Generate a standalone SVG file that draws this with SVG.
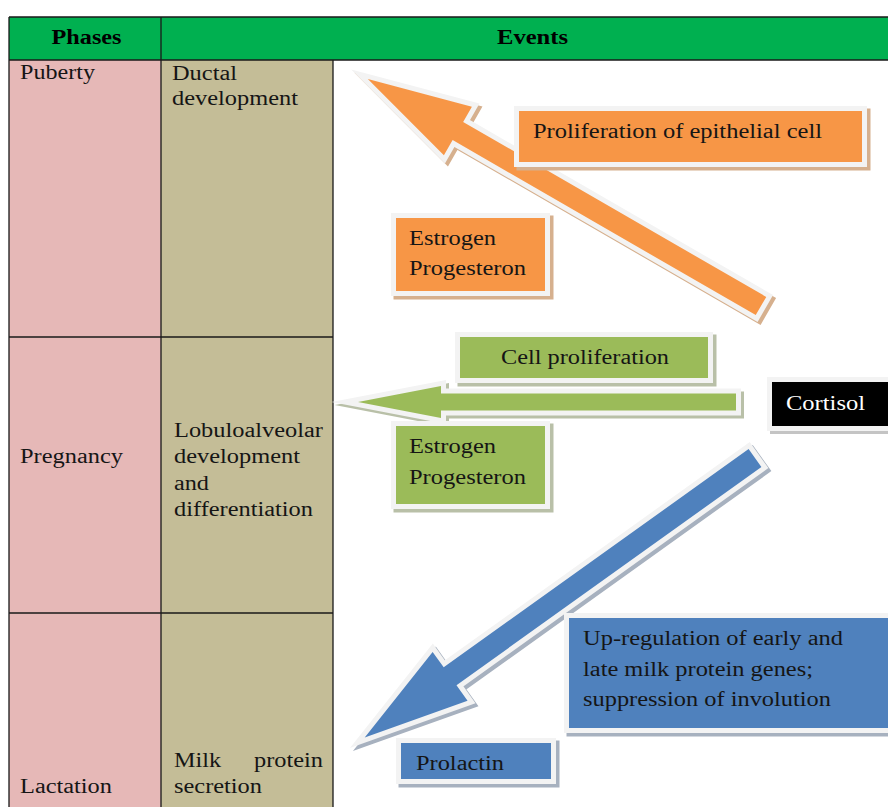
<svg xmlns="http://www.w3.org/2000/svg" xmlns:xlink="http://www.w3.org/1999/xlink" width="888" height="807" viewBox="0 0 888 807">
<style>
.t{font-family:"Liberation Serif","Times New Roman",serif;font-size:20px;fill:#151515}
.hd{font-weight:bold;fill:#000}
.w{fill:#fff}
.grid{stroke:#1a1a1a;stroke-width:1.3;fill:none}
.bd{fill:#f3f3f3}
.ab{stroke:#f3f3f3;stroke-width:10;stroke-linejoin:miter;stroke-miterlimit:12}
.shO{fill:#d6b08e;stroke:#d6b08e}
.shG{fill:#b9c0a8;stroke:#b9c0a8}
.shB{fill:#a7b1bf;stroke:#a7b1bf}
.shK{fill:#c4c4c4}
.sw{stroke-width:10;stroke-linejoin:miter;stroke-miterlimit:12}
.or{fill:#f79646}
.gr{fill:#9bbb59}
.bl{fill:#4f81bd}
</style>
<defs>
<polygon id="arrO" points="0,-10.5 350,-10.5 350,-28 454,0 350,28 350,10.5 0,10.5"/>
<polygon id="arrG" points="736,393.5 441,393.5 441,386 358,402 441,418 441,410.5 736,410.5"/>
<polygon id="arrB" points="0,-11 375,-11 375,-30 480,0 375,30 375,11 0,11"/>
</defs>
<rect width="888" height="807" fill="#fff"/>
<g id="table">
<rect x="9" y="17" width="879" height="43" fill="#00b050"/>
<rect x="9" y="60" width="152" height="747" fill="#e6b8b7"/>
<rect x="161" y="60" width="172" height="747" fill="#c4bd97"/>
<path class="grid" d="M9,17H888M9,60H888M9,17V807M161,17V807M333,60V807M9,337H333M9,613H333"/>
</g>
<g id="header">
<text class="t hd" x="86.5" y="44" text-anchor="middle" textLength="70" lengthAdjust="spacingAndGlyphs">Phases</text>
<text class="t hd" x="532.5" y="44" text-anchor="middle" textLength="71" lengthAdjust="spacingAndGlyphs">Events</text>
</g>
<g id="phase-puberty">
<text class="t" x="20" y="79" textLength="75" lengthAdjust="spacingAndGlyphs">Puberty</text>
<text class="t" x="172" y="80" textLength="65" lengthAdjust="spacingAndGlyphs">Ductal</text>
<text class="t" x="172" y="105" textLength="126" lengthAdjust="spacingAndGlyphs">development</text>
</g>
<g id="phase-pregnancy">
<text class="t" x="20" y="463" textLength="103" lengthAdjust="spacingAndGlyphs">Pregnancy</text>
<text class="t" x="174" y="437" textLength="149" lengthAdjust="spacingAndGlyphs">Lobuloalveolar</text>
<text class="t" x="174" y="463" textLength="126" lengthAdjust="spacingAndGlyphs">development</text>
<text class="t" x="174" y="490" textLength="35" lengthAdjust="spacingAndGlyphs">and</text>
<text class="t" x="174" y="516" textLength="139" lengthAdjust="spacingAndGlyphs">differentiation</text>
</g>
<g id="phase-lactation">
<text class="t" x="20" y="793" textLength="92" lengthAdjust="spacingAndGlyphs">Lactation</text>
<text class="t" x="174" y="767" textLength="47" lengthAdjust="spacingAndGlyphs">Milk</text>
<text class="t" x="254" y="767" textLength="69" lengthAdjust="spacingAndGlyphs">protein</text>
<text class="t" x="174" y="793" textLength="88" lengthAdjust="spacingAndGlyphs">secretion</text>
</g>
<g id="connectors">
<g id="arrow-orange">
<g transform="translate(3,3)"><use xlink:href="#arrO" class="shO sw" transform="translate(761,306) rotate(210)"/></g>
<use xlink:href="#arrO" class="or ab" transform="translate(761,306) rotate(210)"/>
<use xlink:href="#arrO" class="or" transform="translate(761,306) rotate(210)"/>
</g>
<g id="arrow-green">
<g transform="translate(3,3)"><use xlink:href="#arrG" class="shG sw"/></g>
<use xlink:href="#arrG" class="gr ab"/>
<use xlink:href="#arrG" class="gr"/>
</g>
<g id="arrow-blue">
<g transform="translate(3,3)"><use xlink:href="#arrB" class="shB sw" transform="translate(755,458) rotate(144.4)"/></g>
<use xlink:href="#arrB" class="bl ab" transform="translate(755,458) rotate(144.4)"/>
<use xlink:href="#arrB" class="bl" transform="translate(755,458) rotate(144.4)"/>
</g>
</g>
<g id="box-proliferation">
<rect class="shO" x="517" y="109" width="353" height="61"/>
<rect class="bd" x="514" y="106" width="353" height="61"/>
<rect class="or" x="519" y="111" width="343" height="51"/>
<text class="t" x="533" y="138" textLength="289" lengthAdjust="spacingAndGlyphs">Proliferation of epithelial cell</text>
</g>
<g id="box-estrogen-1">
<rect class="shO" x="394" y="216" width="159" height="83"/>
<rect class="bd" x="391" y="213" width="159" height="83"/>
<rect class="or" x="396" y="218" width="149" height="73"/>
<text class="t" x="409" y="245" textLength="87" lengthAdjust="spacingAndGlyphs">Estrogen</text>
<text class="t" x="409" y="275" textLength="117" lengthAdjust="spacingAndGlyphs">Progesteron</text>
</g>
<g id="box-cell-proliferation">
<rect class="shG" x="458" y="335" width="258" height="51"/>
<rect class="bd" x="455" y="332" width="258" height="51"/>
<rect class="gr" x="460" y="337" width="248" height="41"/>
<text class="t" x="501" y="364" textLength="168" lengthAdjust="spacingAndGlyphs">Cell proliferation</text>
</g>
<g id="box-estrogen-2">
<rect class="shG" x="394" y="424" width="159" height="88"/>
<rect class="bd" x="391" y="421" width="159" height="88"/>
<rect class="gr" x="396" y="426" width="149" height="78"/>
<text class="t" x="409" y="453" textLength="87" lengthAdjust="spacingAndGlyphs">Estrogen</text>
<text class="t" x="409" y="484" textLength="117" lengthAdjust="spacingAndGlyphs">Progesteron</text>
</g>
<g id="box-cortisol">
<rect class="shK" x="770" y="380" width="130" height="54"/>
<rect class="bd" x="767" y="377" width="130" height="54"/>
<rect fill="#000" x="772" y="382" width="130" height="44"/>
<text class="t w" x="786" y="410" textLength="79" lengthAdjust="spacingAndGlyphs">Cortisol</text>
</g>
<g id="box-upregulation">
<rect class="shB" x="567" y="616" width="340" height="120"/>
<rect class="bd" x="564" y="613" width="340" height="120"/>
<rect class="bl" x="569" y="618" width="330" height="110"/>
<text class="t" x="583" y="645" textLength="260" lengthAdjust="spacingAndGlyphs">Up-regulation of early and</text>
<text class="t" x="583" y="676" textLength="230" lengthAdjust="spacingAndGlyphs">late milk protein genes;</text>
<text class="t" x="583" y="706" textLength="248" lengthAdjust="spacingAndGlyphs">suppression of involution</text>
</g>
<g id="box-prolactin">
<rect class="shB" x="399" y="741" width="160" height="46"/>
<rect class="bd" x="396" y="738" width="160" height="46"/>
<rect class="bl" x="401" y="743" width="150" height="36"/>
<text class="t" x="416" y="770" textLength="88" lengthAdjust="spacingAndGlyphs">Prolactin</text>
</g>
</svg>
